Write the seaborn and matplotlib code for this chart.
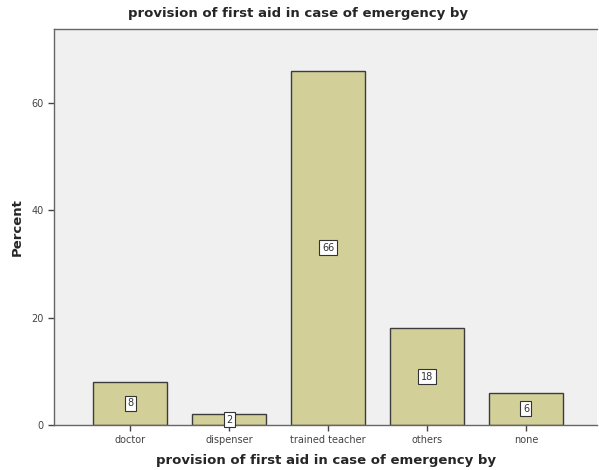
import matplotlib
matplotlib.use("Agg")
import matplotlib.pyplot as plt
import seaborn as sns
import pandas as pd

# data
categories = ["doctor", "dispenser", "trained teacher", "others", "none"]
percent = [8, 2, 66, 18, 6]

df = pd.DataFrame({"who": categories, "Percent": percent})

sns.set_style("white")
plt.rcParams["font.family"] = ["DejaVu Sans"]

fig = plt.figure(figsize=(5.99, 4.70), dpi=100)
ax = fig.add_axes([0.090, 0.096, 0.907, 0.842])
ax.set_facecolor("#f0f0f0")

sns.barplot(data=df, x="who", y="Percent", color="#d3cf98", saturation=1,
            edgecolor="#3c3c3c", linewidth=1, width=0.75, ax=ax)

for i, v in enumerate(percent):
    ax.text(i, v / 2, str(v), ha="center", va="center", fontsize=7, color="#333333",
            bbox=dict(boxstyle="square,pad=0.25", fc="white", ec="#333333", lw=0.8))

ax.set_ylim(0, 73.8)
ax.set_xlim(-0.77, 4.72)
ax.set_yticks([0, 20, 40, 60])
ax.tick_params(axis="both", labelsize=7, colors="#444444", length=4, width=1,
               direction="out", bottom=True, left=True)
for s in ["left", "bottom", "top"]:
    ax.spines[s].set_color("#666666")
    ax.spines[s].set_linewidth(1)
ax.spines["right"].set_visible(False)

ax.set_xlabel("provision of first aid in case of emergency by", fontsize=9.5,
              fontweight="bold", labelpad=6)
ax.set_ylabel("Percent", fontsize=9.5, fontweight="bold", labelpad=5)
# title is centred on the whole figure in the original
fig.suptitle("provision of first aid in case of emergency by", x=0.497, y=0.985,
             fontsize=9.5, fontweight="bold", va="top")

fig.savefig("out.png", dpi=100)
